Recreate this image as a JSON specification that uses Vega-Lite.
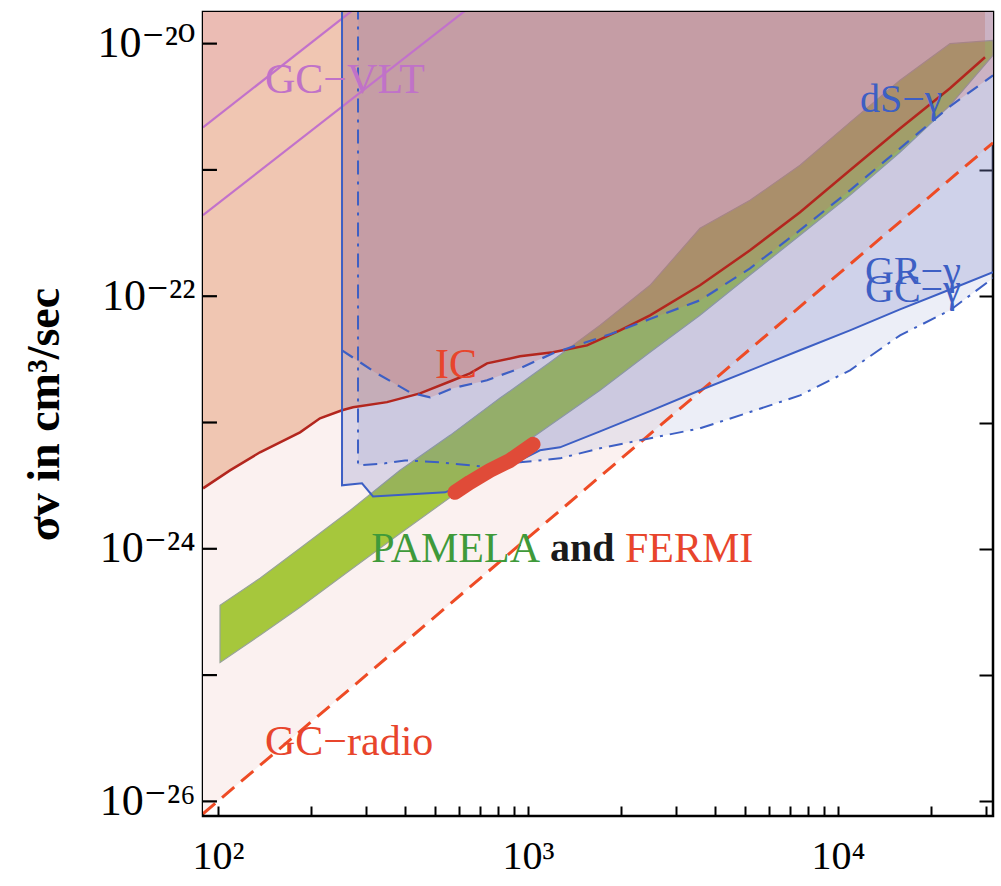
{
  "$schema": "https://vega.github.io/schema/vega-lite/v6.json",
  "width": 790,
  "height": 804,
  "autosize": {"type": "none"},
  "padding": {"left": 203, "top": 12, "right": 8, "bottom": 70},
  "background": "white",
  "config": {
    "view": {"stroke": "black", "strokeWidth": 2.5},
    "axis": {
      "grid": false,
      "domain": false,
      "zindex": 1,
      "tickColor": "black",
      "tickWidth": 2,
      "labelFont": "Liberation Serif, DejaVu Serif",
      "labelColor": "black",
      "labelOverlap": false,
      "labelFlush": false,
      "titleFont": "Liberation Serif",
      "titleColor": "black"
    }
  },
  "datasets": {
    "radio": [{"x": 89.45, "y": 7.98e-27}, {"x": 31620, "y": 1.64e-21}],
    "decades": [{"x": 94.2, "y": 1e-26}, {"x": 94.2, "y": 1e-25}, {"x": 94.2, "y": 1e-24}, {"x": 94.2, "y": 1e-23}, {"x": 94.2, "y": 1e-22}, {"x": 94.2, "y": 1e-21}, {"x": 94.2, "y": 1e-20}],
    "ic": [
      {"x": 89.45, "y": 3.01e-24}, {"x": 109.3, "y": 4.18e-24}, {"x": 136.6, "y": 5.81e-24},
      {"x": 183.9, "y": 8.36e-24}, {"x": 213.3, "y": 1.08e-23}, {"x": 251.2, "y": 1.25e-23},
      {"x": 272.6, "y": 1.32e-23}, {"x": 350.9, "y": 1.45e-23}, {"x": 448.3, "y": 1.70e-23},
      {"x": 573.0, "y": 2.16e-23}, {"x": 650.0, "y": 2.45e-23}, {"x": 737.6, "y": 2.94e-23},
      {"x": 942.3, "y": 3.34e-23}, {"x": 1204, "y": 3.6e-23}, {"x": 1550, "y": 4.08e-23},
      {"x": 1981, "y": 5.37e-23}, {"x": 2475, "y": 7.06e-23}, {"x": 3588, "y": 1.22e-22},
      {"x": 5202, "y": 2.31e-22}, {"x": 7541, "y": 4.62e-22}, {"x": 10930, "y": 9.93e-22},
      {"x": 15850, "y": 2.13e-21}, {"x": 22980, "y": 4.43e-21}, {"x": 29800, "y": 7.8e-21}
    ],
    "vltU": [{"x": 89.45, "y": 2.17e-21}, {"x": 300, "y": 2.22e-20}],
    "vltL": [{"x": 89.45, "y": 4.38e-22}, {"x": 700, "y": 2.25e-20}],
    "gcg": [
      {"i": 0, "x": 251.2, "y": 2e-20}, {"i": 1, "x": 251.2, "y": 3.18e-24},
      {"i": 2, "x": 291.4, "y": 3.3e-24}, {"i": 3, "x": 316.2, "y": 2.6e-24},
      {"i": 4, "x": 539.9, "y": 2.8e-24}, {"i": 5, "x": 674.5, "y": 3.49e-24},
      {"i": 6, "x": 874.9, "y": 4.58e-24}, {"i": 7, "x": 1093, "y": 6.02e-24},
      {"i": 8, "x": 1268, "y": 6.36e-24}, {"i": 9, "x": 1708, "y": 8.51e-24},
      {"i": 10, "x": 2475, "y": 1.23e-23}, {"i": 11, "x": 3588, "y": 1.80e-23},
      {"i": 12, "x": 5202, "y": 2.59e-23}, {"i": 13, "x": 7541, "y": 3.73e-23},
      {"i": 14, "x": 10930, "y": 5.37e-23}, {"i": 15, "x": 15850, "y": 7.87e-23},
      {"i": 16, "x": 22980, "y": 1.13e-22}, {"i": 17, "x": 31620, "y": 1.55e-22}
    ],
    "grg": [
      {"i": 0, "x": 282.9, "y": 2e-20}, {"i": 1, "x": 282.9, "y": 4.58e-24},
      {"i": 2, "x": 345.7, "y": 4.75e-24}, {"i": 3, "x": 401.1, "y": 5.01e-24},
      {"i": 4, "x": 520.2, "y": 4.84e-24}, {"i": 5, "x": 700.2, "y": 4.5e-24},
      {"i": 6, "x": 942.3, "y": 4.84e-24}, {"i": 7, "x": 1268, "y": 5.2e-24},
      {"i": 8, "x": 1708, "y": 6.25e-24}, {"i": 9, "x": 2298, "y": 7.23e-24},
      {"i": 10, "x": 3588, "y": 8.99e-24}, {"i": 11, "x": 5202, "y": 1.21e-23},
      {"i": 12, "x": 7541, "y": 1.64e-23}, {"i": 13, "x": 10930, "y": 2.59e-23},
      {"i": 14, "x": 15850, "y": 4.9e-23}, {"i": 15, "x": 22980, "y": 7.74e-23},
      {"i": 16, "x": 31620, "y": 1.39e-22}
    ],
    "dsg": [
      {"x": 251.2, "y": 3.73e-23}, {"x": 321.0, "y": 2.5e-23}, {"x": 416.3, "y": 1.73e-23},
      {"x": 483.0, "y": 1.58e-23}, {"x": 573.0, "y": 1.87e-23}, {"x": 737.6, "y": 2.16e-23},
      {"x": 942.3, "y": 2.69e-23}, {"x": 1204, "y": 3.53e-23}, {"x": 1839, "y": 5.0e-23},
      {"x": 2475, "y": 6.6e-23}, {"x": 3588, "y": 9.28e-23}, {"x": 5202, "y": 1.66e-22},
      {"x": 7541, "y": 3.33e-22}, {"x": 10930, "y": 6.89e-22}, {"x": 15850, "y": 1.48e-21},
      {"x": 22980, "y": 3.19e-21}, {"x": 31620, "y": 5.61e-21}
    ],
    "pam": [
      {"x": 101.5, "lo": 1.26e-25, "hi": 3.57e-25}, {"x": 136.6, "lo": 2.07e-25, "hi": 5.84e-25},
      {"x": 183.9, "lo": 3.44e-25, "hi": 1.01e-24}, {"x": 266.6, "lo": 6.75e-25, "hi": 2.01e-24},
      {"x": 386.5, "lo": 1.32e-24, "hi": 4.18e-24}, {"x": 560.3, "lo": 2.55e-24, "hi": 7.91e-24},
      {"x": 812.3, "lo": 5.01e-24, "hi": 1.56e-23}, {"x": 1178, "lo": 9.5e-24, "hi": 3.0e-23},
      {"x": 1708, "lo": 1.80e-23, "hi": 5.89e-23}, {"x": 2475, "lo": 3.6e-23, "hi": 1.22e-22},
      {"x": 3588, "lo": 7.06e-23, "hi": 3.45e-22}, {"x": 5202, "lo": 1.47e-22, "hi": 5.75e-22},
      {"x": 7541, "lo": 3.04e-22, "hi": 1.09e-21}, {"x": 10930, "lo": 6.29e-22, "hi": 2.38e-21},
      {"x": 15850, "lo": 1.38e-21, "hi": 5.12e-21}, {"x": 22980, "lo": 3.24e-21, "hi": 1.0e-20},
      {"x": 31620, "lo": 8.08e-21, "hi": 1.06e-20}
    ],
    "fermi": [
      {"x": 581.6, "y": 2.8e-24}, {"x": 650, "y": 3.36e-24}, {"x": 754.2, "y": 4.18e-24},
      {"x": 874.9, "y": 5.01e-24}, {"x": 1038, "y": 6.71e-24}
    ]
  },
  "encoding": {
    "x": {"field": "x", "type": "quantitative", "scale": {"type": "log", "domain": [89.45, 31620], "nice": false, "zero": false}, "axis": null},
    "y": {"field": "y", "type": "quantitative", "scale": {"type": "log", "domain": [7.66e-27, 1.78e-20], "nice": false, "zero": false}, "axis": null}
  },
  "resolve": {"axis": {"x": "independent", "y": "independent"}},
  "layer": [
    {
      "data": {"name": "radio"},
      "mark": {"type": "area", "orient": "vertical", "clip": true, "color": "#fbf1f0"},
      "encoding": {"y2": {"datum": 1e-19}}
    },
    {
      "data": {"name": "pam"},
      "mark": {"type": "area", "orient": "vertical", "clip": true, "color": "#a6c73c", "stroke": "#98a496", "strokeWidth": 1.2},
      "encoding": {"y": {"field": "lo", "type": "quantitative"}, "y2": {"field": "hi"}}
    },
    {
      "data": {"name": "ic"},
      "mark": {"type": "area", "orient": "vertical", "clip": true, "color": "#dd7640", "opacity": 0.35},
      "encoding": {"y2": {"datum": 1e-19}}
    },
    {
      "data": {"name": "vltU"},
      "mark": {"type": "area", "orient": "vertical", "clip": true, "color": "#e2a4b9", "opacity": 0.3},
      "encoding": {"y2": {"datum": 1e-19}}
    },
    {
      "data": {"name": "grg"},
      "transform": [{"filter": "datum.i >= 1"}],
      "mark": {"type": "area", "orient": "vertical", "clip": true, "color": "#8b93d0", "opacity": 0.16},
      "encoding": {"y2": {"datum": 1e-19}}
    },
    {
      "data": {"name": "gcg"},
      "transform": [{"filter": "datum.i >= 1"}],
      "mark": {"type": "area", "orient": "vertical", "clip": true, "color": "#6973c0", "opacity": 0.22},
      "encoding": {"y2": {"datum": 1e-19}}
    },
    {
      "data": {"name": "dsg"},
      "mark": {"type": "area", "orient": "vertical", "clip": true, "color": "#c76e6c", "opacity": 0.25},
      "encoding": {"y2": {"datum": 1e-19}}
    },
    {
      "data": {"name": "vltU"},
      "mark": {"type": "line", "clip": true, "color": "#c272cb", "strokeWidth": 2.2},
      "encoding": {}
    },
    {
      "data": {"name": "vltL"},
      "mark": {"type": "line", "clip": true, "color": "#c272cb", "strokeWidth": 2.2},
      "encoding": {}
    },
    {
      "data": {"name": "ic"},
      "mark": {"type": "line", "clip": true, "color": "#b3261e", "strokeWidth": 2.5},
      "encoding": {}
    },
    {
      "data": {"name": "radio"},
      "mark": {"type": "line", "clip": true, "color": "#ee4b25", "strokeWidth": 3, "strokeDash": [16, 9]},
      "encoding": {}
    },
    {
      "data": {"name": "gcg"},
      "mark": {"type": "line", "clip": true, "color": "#3d5fc4", "strokeWidth": 2},
      "encoding": {"order": {"field": "i", "type": "quantitative"}}
    },
    {
      "data": {"name": "grg"},
      "mark": {"type": "line", "clip": true, "color": "#3d5fc4", "strokeWidth": 2, "strokeDash": [14, 7, 3, 7]},
      "encoding": {"order": {"field": "i", "type": "quantitative"}}
    },
    {
      "data": {"name": "dsg"},
      "mark": {"type": "line", "clip": true, "color": "#3d5fc4", "strokeWidth": 2.2, "strokeDash": [13, 9]},
      "encoding": {}
    },
    {
      "data": {"name": "fermi"},
      "mark": {"type": "line", "clip": true, "color": "#e04b38", "strokeWidth": 15, "strokeCap": "round", "strokeJoin": "round"},
      "encoding": {}
    },
    {
      "data": {"name": "decades"},
      "mark": {"type": "tick", "orient": "horizontal", "color": "#000000", "thickness": 2.2, "size": 14, "opacity": 1},
      "encoding": {"x": {"field": "x", "type": "quantitative"}, "y": {"field": "y", "type": "quantitative"}}
    },
    {
      "data": {"values": [{"x": 141.8, "y": 5.12e-21, "t": "GC−VLT"}]},
      "mark": {"type": "text", "align": "left", "baseline": "middle", "font": "Liberation Serif", "fontSize": 42, "color": "#c072c8"},
      "encoding": {"text": {"field": "t"}}
    },
    {
      "data": {"values": [{"x": 11780, "y": 3.56e-21, "t": "dS−γ"}, {"x": 12220, "y": 1.55e-22, "t": "GR−γ"}, {"x": 12220, "y": 1.11e-22, "t": "GC−γ"}]},
      "mark": {"type": "text", "align": "left", "baseline": "middle", "font": "Liberation Serif", "fontSize": 40, "color": "#3d5fc4"},
      "encoding": {"text": {"field": "t"}}
    },
    {
      "data": {"values": [{"x": 501.2, "y": 2.84e-23, "t": "IC"}, {"x": 141.8, "y": 2.93e-26, "t": "GC−radio"}]},
      "mark": {"type": "text", "align": "left", "baseline": "middle", "font": "Liberation Serif", "fontSize": 42, "color": "#e8452c"},
      "encoding": {"text": {"field": "t"}}
    },
    {
      "data": {"values": [{"x": 1093, "y": 9.9e-25, "t": "PAMELA"}]},
      "mark": {"type": "text", "align": "right", "baseline": "middle", "font": "Liberation Serif", "fontSize": 42, "color": "#3f9a3a"},
      "encoding": {"text": {"field": "t"}}
    },
    {
      "data": {"values": [{"x": 1178, "y": 9.9e-25, "t": "and"}]},
      "mark": {"type": "text", "align": "left", "baseline": "middle", "font": "Liberation Serif", "fontSize": 40, "fontWeight": "bold", "color": "#1a1a1a"},
      "encoding": {"text": {"field": "t"}}
    },
    {
      "data": {"values": [{"x": 2055, "y": 9.9e-25, "t": "FERMI"}]},
      "mark": {"type": "text", "align": "left", "baseline": "middle", "font": "Liberation Serif", "fontSize": 42, "color": "#e8452c"},
      "encoding": {"text": {"field": "t"}}
    },
    {
      "data": {"name": "radio"},
      "mark": {"type": "point", "opacity": 0},
      "encoding": {
        "x": {"field": "x", "type": "quantitative", "axis": {
          "orient": "bottom", "title": null,
          "values": [100, 200, 300, 400, 500, 600, 700, 800, 900, 1000, 2000, 3000, 4000, 5000, 6000, 7000, 8000, 9000, 10000, 20000, 30000],
          "labelExpr": "datum.value == 100 ? '10²' : datum.value == 1000 ? '10³' : datum.value == 10000 ? '10⁴' : ''",
          "tickSize": -10, "labelPadding": 30, "labelFontSize": 40, "labelBaseline": "top"}},
        "y": {"field": "y", "type": "quantitative", "axis": {
          "orient": "left", "title": "σv in cm³/sec", "titleFontSize": 46, "titleFontWeight": "bold", "titlePadding": 28,
          "values": [1e-26, 1e-25, 1e-24, 1e-23, 1e-22, 1e-21, 1e-20],
          "labelExpr": "datum.value < 1.5e-26 ? '10⁻²⁶' : datum.value < 1.5e-25 ? '' : datum.value < 1.5e-24 ? '10⁻²⁴' : datum.value < 1.5e-23 ? '' : datum.value < 1.5e-22 ? '10⁻²²' : datum.value < 1.5e-21 ? '' : '10⁻²⁰'",
          "ticks": false, "labelPadding": 8, "labelFontSize": 44}}
      }
    },
    {
      "data": {"name": "radio"},
      "mark": {"type": "point", "opacity": 0},
      "encoding": {
        "x": {"field": "x", "type": "quantitative", "axis": {
          "orient": "top", "title": null, "labels": false,
          "values": [100, 200, 300, 400, 500, 600, 700, 800, 900, 1000, 2000, 3000, 4000, 5000, 6000, 7000, 8000, 9000, 10000, 20000, 30000],
          "tickSize": -10}},
        "y": {"field": "y", "type": "quantitative", "axis": {
          "orient": "right", "title": null, "labels": false,
          "values": [1e-26, 1e-25, 1e-24, 1e-23, 1e-22, 1e-21, 1e-20],
          "tickSize": -14}}
      }
    }
  ]
}
